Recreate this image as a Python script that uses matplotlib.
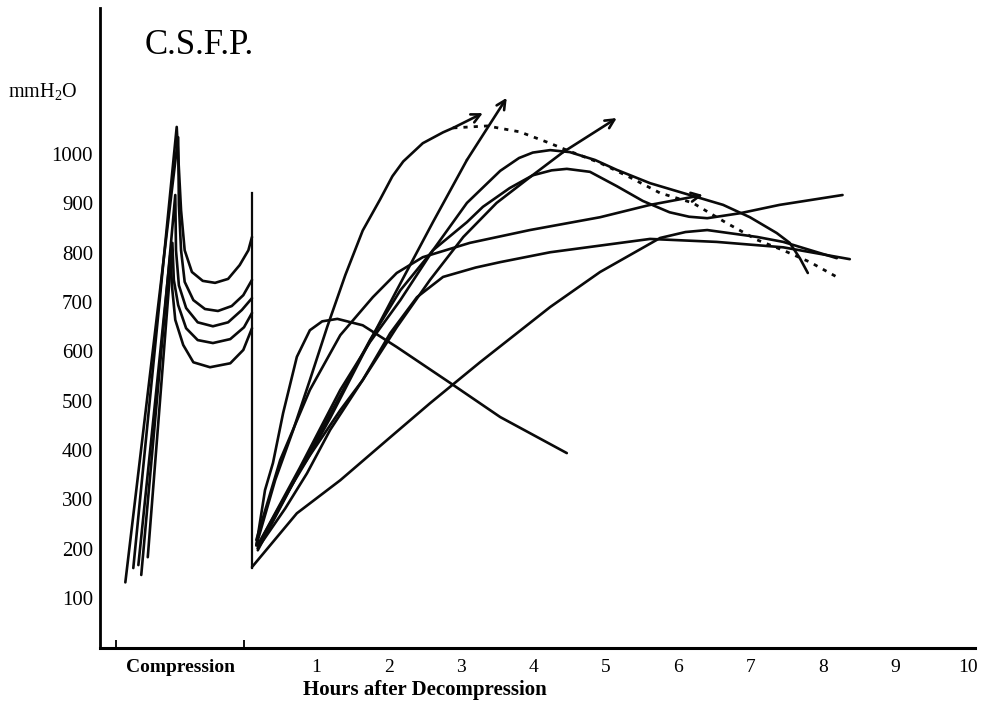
import matplotlib
matplotlib.use("Agg")
import matplotlib.pyplot as plt

plt.rcParams['font.family'] = ['Liberation Serif', 'DejaVu Serif']
plt.rcParams['mathtext.fontset'] = 'custom'
plt.rcParams['mathtext.rm'] = 'Liberation Serif'
plt.rcParams['mathtext.it'] = 'Liberation Serif:italic'

# ---------------- data (hours, mmH2O) ----------------
y_ticks = [100, 200, 300, 400, 500, 600, 700, 800, 900, 1000]
y_tick_labels = ["100", "200", "300", "400", "500", "600", "700", "800", "900", "1000"]
x_tick_pos = [-0.88, 1, 2, 3, 4, 5, 6, 7, 8, 9, 10]
x_tick_labels = ["Compression", "1", "2", "3", "4", "5", "6", "7", "8", "9", "10"]
compression_bounds = [-1.77, 0.0]

# compression phase curves
c1_h = [-1.53, -0.93, -0.87, -0.82, -0.72, -0.57, -0.40, -0.22, -0.06, 0.06, 0.11]
c1_v = [161, 1055, 886, 805, 761, 743, 739, 747, 775, 805, 832]
c2_h = [-1.64, -0.91, -0.90, -0.87, -0.82, -0.70, -0.54, -0.36, -0.17, -0.01, 0.11]
c2_v = [132, 1034, 897, 805, 741, 704, 686, 682, 692, 714, 745]
c3_h = [-1.42, -0.95, -0.94, -0.90, -0.80, -0.64, -0.43, -0.22, -0.03, 0.11]
c3_v = [147, 917, 805, 734, 688, 659, 651, 659, 684, 708]
c4_h = [-1.33, -0.99, -0.97, -0.91, -0.80, -0.64, -0.43, -0.19, 0.00, 0.11]
c4_v = [183, 820, 745, 694, 647, 623, 617, 625, 649, 678]
c5_h = [-1.46, -1.02, -0.99, -0.95, -0.84, -0.70, -0.47, -0.19, -0.01, 0.11]
c5_v = [167, 795, 724, 664, 613, 578, 568, 576, 603, 647]

# decompression drop
decomp_h = [0.11, 0.11]
decomp_v = [161, 921]

# after decompression
a_h = [0.17, 0.29, 0.40, 0.54, 0.73, 0.91, 1.08, 1.29, 1.64, 2.11, 2.85, 3.54, 4.46]
a_v = [207, 319, 374, 475, 589, 643, 661, 666, 653, 609, 536, 467, 394]

b_h = [0.17, 0.43, 0.68, 0.91, 1.15, 1.40, 1.64, 1.88, 2.05, 2.20, 2.47, 2.75, 2.89, 3.30]
b_v = [207, 339, 441, 542, 650, 755, 845, 908, 955, 985, 1022, 1044, 1053, 1083]

dotted_h = [2.89, 3.36, 3.81, 4.19, 4.46, 4.92, 5.33, 5.75, 6.20, 6.67, 7.09, 7.45, 7.82, 8.19]
dotted_v = [1053, 1057, 1045, 1024, 1008, 982, 953, 921, 901, 860, 826, 805, 781, 751]

c_h = [0.19, 0.54, 0.87, 1.19, 1.64, 2.11, 2.61, 3.08, 3.63]
c_v = [207, 299, 380, 465, 593, 724, 862, 988, 1114]

d_h = [0.19, 0.57, 0.87, 1.19, 1.64, 2.11, 2.57, 3.03, 3.49, 3.95, 4.41, 5.15]
d_v = [201, 282, 353, 441, 542, 649, 745, 832, 901, 953, 1004, 1073]

e_h = [0.19, 0.77, 1.33, 1.74, 2.16, 2.61, 3.08, 3.54, 3.80, 3.99, 4.23, 4.50, 4.85,
       5.15, 5.61, 6.16, 6.62, 6.99, 7.36, 7.54, 7.68, 7.79]
e_v = [207, 364, 522, 619, 704, 805, 901, 966, 992, 1003, 1008, 1004, 988,
       968, 941, 917, 897, 872, 840, 820, 789, 759]

f_h = [0.19, 0.77, 1.33, 1.74, 2.16, 2.61, 3.08, 3.30, 3.67, 3.99, 4.25, 4.46, 4.78,
       5.15, 5.51, 5.88, 6.15, 6.40, 6.85, 7.40, 8.27]
f_v = [201, 359, 511, 623, 724, 805, 862, 893, 931, 957, 967, 970, 964,
       935, 905, 882, 873, 870, 880, 897, 917]

g_h = [0.17, 0.50, 0.91, 1.33, 1.78, 2.11, 2.47, 3.12, 3.95, 4.92, 5.61, 6.34]
g_v = [218, 380, 522, 633, 710, 759, 791, 820, 846, 872, 897, 917]

i_h = [0.19, 0.77, 1.33, 1.64, 2.02, 2.39, 2.75, 3.20, 3.54, 4.23, 5.61, 6.53, 7.45, 8.37]
i_v = [197, 359, 481, 542, 637, 710, 751, 770, 781, 801, 828, 822, 811, 787]

j_h = [0.11, 0.73, 1.33, 2.02, 2.57, 3.26, 4.23, 4.92, 5.75, 6.10, 6.40, 7.09, 7.45, 8.19]
j_v = [163, 272, 339, 426, 495, 578, 690, 761, 830, 842, 846, 832, 822, 789]

# ---------------- drawing ----------------
fig = plt.figure(figsize=(9.89, 7.12), dpi=100)
ax = fig.add_axes([100 / 989, 1 - 648 / 712, (975 - 100) / 989, (648 - 8) / 712])
ax.set_xlim(-1.99, 10.1)
ax.set_ylim(-1, 1296)

LW = 1.9
K = "#0a0a0a"
kw = dict(color=K, lw=LW, solid_joinstyle="round", solid_capstyle="round")

for hh, vv in [(c1_h, c1_v), (c2_h, c2_v), (c3_h, c3_v), (c4_h, c4_v), (c5_h, c5_v)]:
    ax.plot(hh, vv, **kw)
ax.plot(decomp_h, decomp_v, color=K, lw=1.6)

for hh, vv in [(a_h, a_v), (e_h, e_v), (f_h, f_v), (i_h, i_v), (j_h, j_v)]:
    ax.plot(hh, vv, **kw)

for hh, vv in [(b_h, b_v), (c_h, c_v), (d_h, d_v), (g_h, g_v)]:
    ax.plot(hh[:-1], vv[:-1], **kw)
    ax.annotate("", xy=(hh[-1], vv[-1]), xytext=(hh[-2], vv[-2]),
                arrowprops=dict(arrowstyle="->", lw=LW, color=K,
                                mutation_scale=16, shrinkA=0, shrinkB=0))

ax.plot(dotted_h, dotted_v, color=K, lw=2.0, linestyle=(0, (1.5, 2.2)))

# axes styling
for s in ["top", "right"]:
    ax.spines[s].set_visible(False)
ax.spines["left"].set_linewidth(2.0)
ax.spines["bottom"].set_linewidth(2.2)

ax.set_yticks(y_ticks)
ax.set_yticklabels(y_tick_labels, fontsize=15)
ax.tick_params(axis="y", length=0, pad=5)
ax.set_xticks(x_tick_pos)
ax.set_xticklabels(x_tick_labels, fontsize=14)
ax.get_xticklabels()[0].set_fontweight("bold")
ax.tick_params(axis="x", length=0, pad=8)
ax.set_xticks(compression_bounds, minor=True)
ax.tick_params(axis="x", which="minor", direction="in", length=6, width=1.3)

fig.text(199 / 989, 1 - 45 / 712, "C.S.F.P.", fontsize=25, ha="center", va="center")
fig.text(8 / 989, 1 - 92 / 712, "mmH$_2$O", fontsize=14.5, ha="left", va="center")
fig.text(425 / 989, 1 - 690 / 712, "Hours after Decompression", fontsize=15,
         fontweight="bold", ha="center", va="center")

fig.savefig("out.png", dpi=100, facecolor="white")
